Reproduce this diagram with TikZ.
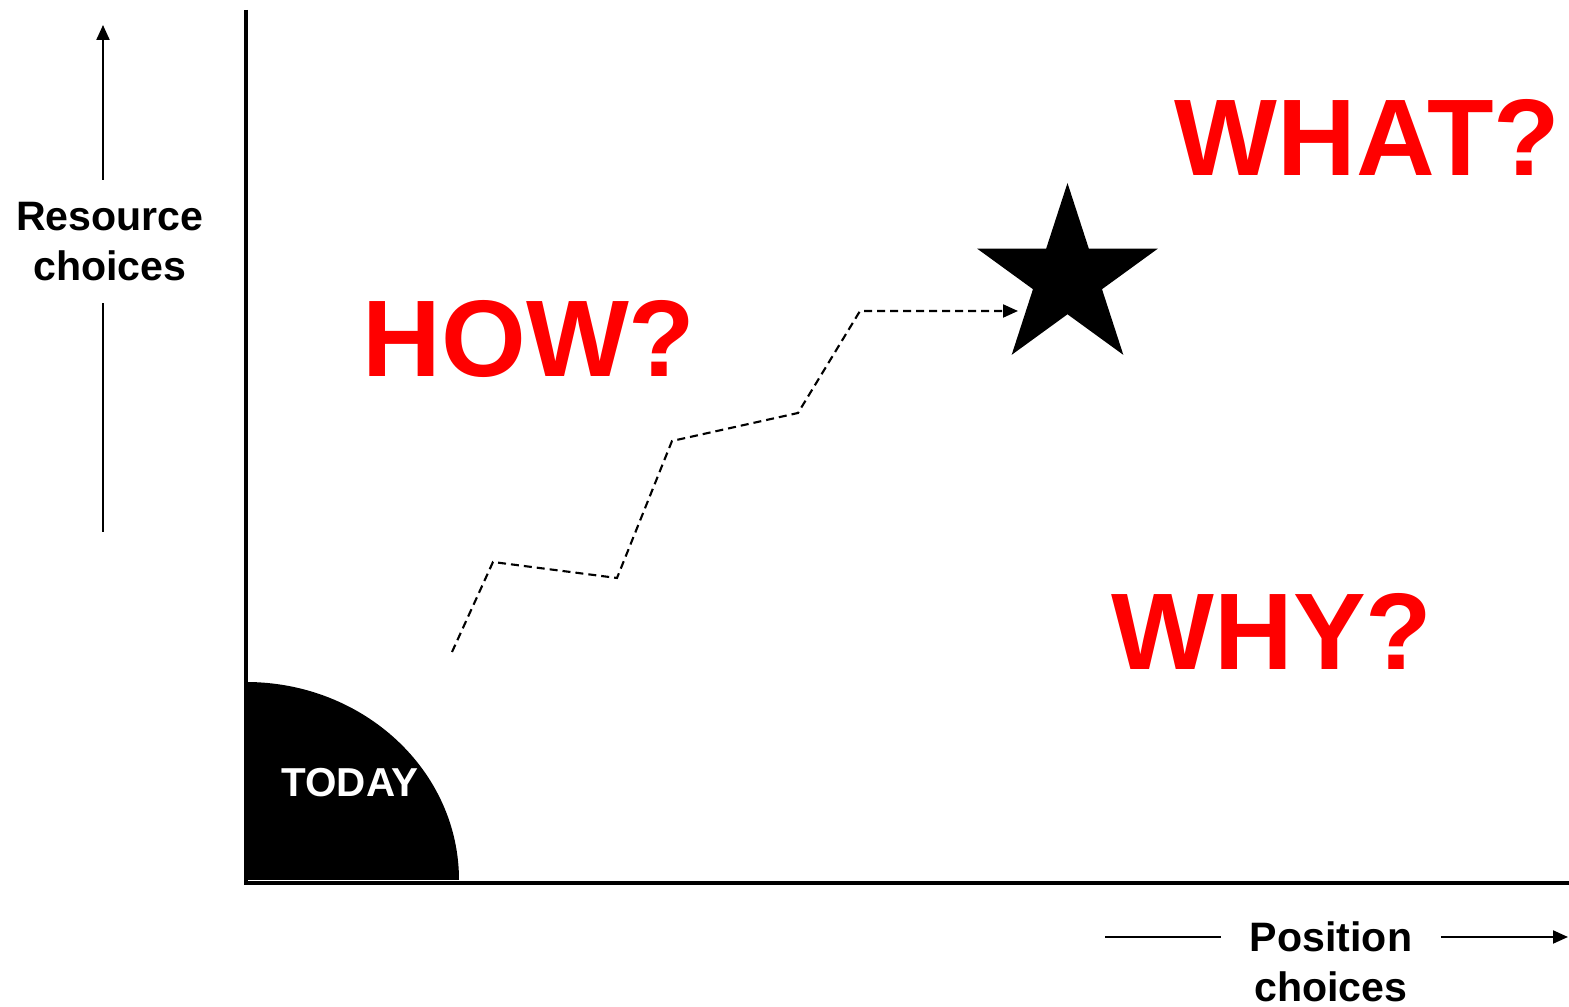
\documentclass[tikz,border=0pt]{standalone}
\usepackage{fontspec}
\setmainfont{Liberation Sans}
\usetikzlibrary{arrows.meta,shapes.geometric}
\definecolor{ask}{HTML}{FF0000}
\definecolor{ink}{HTML}{000000}
\tikzset{
  axislabel/.style={font=\fontsize{11.7}{14.2}\selectfont\bfseries, text=ink, align=center, inner ysep=0.215cm},
  question/.style={font=\fontsize{31}{37}\selectfont\bfseries, text=ask, anchor=base, inner sep=0pt},
  tip/.style={-{Triangle[length=0.15cm, width=0.13cm]}}
}

\begin{document}
\begin{tikzpicture}[line cap=butt, line join=miter]
\useasboundingbox (0,0) rectangle (15.69,10.07);

% ---------------- today: quarter of an ellipse in the corner ----------------
\fill[ink] (2.46,1.27) -- ++(2.13,0) arc[start angle=0, end angle=90, x radius=2.13, y radius=1.98] -- cycle;
\node[font=\fontsize{11.5}{14}\selectfont\bfseries, text=white, anchor=base, inner sep=0pt] (today) at (3.50,2.10) {TODAY};

% ---------------- axes ----------------
\draw[ink, line width=0.9pt] (2.46,9.97) |- (15.69,1.24);

% ---------------- axis labels with their arrows ----------------
\node[axislabel] (rc) at (1.10,7.655) {Resource\\choices};
\coordinate (rtop) at (1.03,9.82);
\coordinate (rbot) at (1.03,4.75);
\draw[ink, line width=0.6pt] (rbot) -- (rbot |- rc.south);
\draw[ink, line width=0.6pt, tip] (rtop |- rc.north) -- (rtop);

\node[axislabel, inner xsep=0.28cm] (pc) at (13.31,0.455) {Position\\choices};
\coordinate (pleft) at (11.05,0.70);
\coordinate (pright) at (15.68,0.70);
\draw[ink, line width=0.6pt] (pleft) -- (pleft -| pc.west);
\draw[ink, line width=0.6pt, tip] (pright -| pc.east) -- (pright);

% ---------------- the goal ----------------
\node[star, star points=5, star point ratio=2.618, fill=ink, inner sep=0pt, minimum size=1.9cm] (goal) at (10.675,7.29) {};

% ---------------- path from today to the goal ----------------
\coordinate (start) at (4.52,3.55);
\coordinate (end) at (10.18,6.96);
\draw[ink, line width=0.6pt, dash pattern=on 0.08cm off 0.05cm, tip]
  (start) -- (4.93,4.45) -- (6.17,4.29) -- (6.72,5.66) -- (7.98,5.94) -- (8.60,6.96) -- (end);

% ---------------- questions ----------------
\node[question] (how) at (5.29,6.30) {HOW?};
\node[question] (what) at (13.675,8.31) {WHAT?};
\node[question] (why) at (12.72,3.37) {WHY?};

\end{tikzpicture}
\end{document}
